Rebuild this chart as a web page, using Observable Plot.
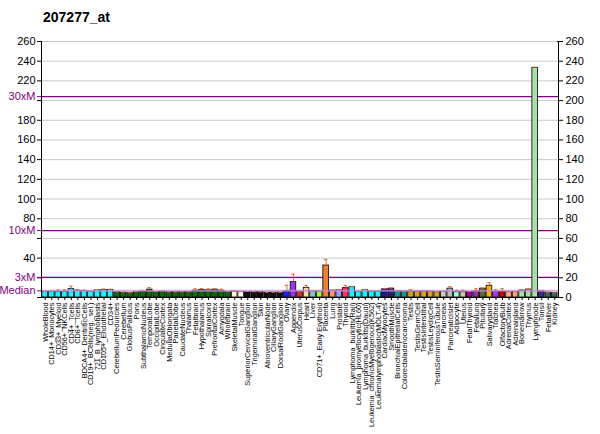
<!DOCTYPE html>
<html>
<head>
<meta charset="utf-8">
<script src="https://cdn.jsdelivr.net/npm/d3@7"></script>
<script src="https://cdn.jsdelivr.net/npm/@observablehq/plot@0.6"></script>
<style>
  html, body { margin: 0; padding: 0; background: #fff; }
  #wrap { position: relative; width: 600px; height: 434px; }
  #title { position: absolute; left: 43px; top: 9px; font: bold 14px "Liberation Sans", Arial, sans-serif; color: #000; }
</style>
</head>
<body>
<div id="wrap"><div id="title">207277_at</div></div>
<script>
const tissues = [
  "WholeBlood","CD14+_Monocytes","CD33+_Myeloid","CD56+_NKCells","CD4+_Tcells","CD8+_Tcells",
  "BDCA4+_DentriticCells","CD19+_BCells(neg._sel.)","721_B_lymphoblasts","CD105+_Endothelial","CD34+",
  "CerebellumPeduncles","Cerebellum","GlobusPallidus","Pons","SubthalamicNucleus","TemporalLobe",
  "OccipitalLobe","CingulateCortex","MedullaOblongata","ParietalLobe","CaudateNucleus","Thalamus",
  "Fetalbrain","Hypothalamus","Spinalcord","PrefrontalCortex","Amygdala","Wholebrain",
  "SkeletalMuscle","Tongue","SuperiorCervicalGanglion","TrigeminalGanglion","Skin",
  "AtrioventricularNode","CiliaryGanglion","DorsalRootGanglion","Ovary","Appendix","UterusCorpus",
  "Heart","Liver","CD71+_Early Erythroid","Placenta","Lung","Prostate","Thyroid",
  "Lymphoma_burkitts(Raji)","Leukemia_promyelocytic(HL60)","Lymphoma_burkitts(Daudi)",
  "Leukemia_chronicMyelogenous(K562)","Leukemialymphoblastic(MOLT-4)","CardiacMyocytes",
  "SmoothMuscle","BronchialEpithelialCells","Colorectaladenocarcinoma","Testis","TestisGermCell",
  "TestisInterstitial","TestisLeydigCell","TestisSeminiferousTubule","Pancreas","PancreaticIslet",
  "Adipocyte","Uterus","FetalThyroid","Fetallung","Pituitary","Salivarygland","Trachea",
  "OlfactoryBulb","AdrenalCortex","Adrenalgland","Bonemarrow","Thymus","Lymphnode","Tonsil",
  "Fetalliver","Kidney"
];
const values = [
  5.8,6.0,5.8,5.8,8.5,7.0,6.5,6.0,7.3,7.6,7.6,
  5.4,5.0,4.4,5.7,6.0,8.0,5.7,6.0,5.4,5.4,5.4,5.4,
  7.0,7.6,7.3,8.0,7.0,5.7,
  6.0,5.7,5.8,5.5,5.5,5.0,5.0,5.0,6.4,15.6,6.1,
  9.8,6.4,6.1,32.5,7.0,7.4,9.5,
  10.5,6.0,7.4,6.0,6.0,8.4,
  9.0,6.4,6.0,6.0,6.0,6.0,6.0,5.6,5.8,9.0,
  5.4,5.4,5.7,6.4,9.0,12.0,6.0,
  6.0,5.4,5.7,7.0,8.0,233,6.5,
  5.0,4.4
];
const errors = [
  0.6,0.5,2.0,2.0,3.0,1.0,1.0,0.5,0.8,1.0,0.8,
  0.4,0.4,0.3,0.4,1.2,2.0,0.4,0.8,0.4,0.4,0.4,0.4,
  1.8,1.5,1.5,0.8,1.5,0.4,
  0.8,0.3,0.3,0.3,0.3,0.3,0.3,0.3,6.0,8.0,0.6,
  2.5,0.6,0.3,6.0,0.4,0.8,2.5,
  0.8,0.3,0.8,0.3,0.3,0.8,
  0.6,0.6,0.6,2.0,0.5,0.6,0.6,0.3,0.4,2.0,
  2.0,2.0,0.4,2.5,0.6,3.0,2.0,
  3.0,0.8,0.4,1.0,1.0,1.0,0.8,
  0.3,0.3
];
const barColors = [
  "#22eeff","#22eeff","#22eeff","#22eeff","#22eeff","#22eeff","#22eeff","#22eeff","#22eeff","#22eeff","#22eeff",
  "#0b6b0b","#0b6b0b","#0b6b0b","#0b6b0b","#0b6b0b","#0b6b0b","#0b6b0b","#0b6b0b","#0b6b0b","#0b6b0b","#0b6b0b","#0b6b0b",
  "#0b6b0b","#0b6b0b","#0b6b0b","#0b6b0b","#0b6b0b","#0b6b0b",
  "#fff0d8","#fff6e6","#111111","#111111","#111111","#111111","#111111","#111111","#1a1aff","#9933ee","#cc3333",
  "#f2d9a6","#88c4cc","#99ff33","#ee8030","#ff9966","#9999ff","#ff3366",
  "#22eeff","#22eeff","#22eeff","#22eeff","#22eeff","#1a1a99",
  "#222277","#119999","#119999","#d4a020","#d4a020","#d4a020","#d4a020","#d4a020","#cccccc","#bbbbbb",
  "#99ffdd","#cccc99","#a000a0","#993399","#556b2f","#ffaa11","#aa33ff",
  "#cc0000","#ffaa88","#ff9977","#a8e0a8","#a8e0a8","#a8e0a8","#333399",
  "#336666","#336666"
];
const median = 6.8;
const multLabels = ["Median", "3xM", "10xM", "30xM"];
const multValues = [median, median * 3, median * 10, median * 30];
const rightTicks = d3.range(0, 261, 20);

const data = tissues.map((t, i) => ({tissue: t, value: values[i], err: errors[i], color: barColors[i]}));
const hiddenLeft = new Set([0, 20, 60, 200]);
const font = '"Liberation Sans", Arial, sans-serif';

const chart = Plot.plot({
  width: 600,
  height: 434,
  marginTop: 41,
  marginLeft: 41,
  marginRight: 42,
  marginBottom: 137,
  style: {fontFamily: font, background: "white", color: "black"},
  x: {domain: tissues, padding: 0.14, axis: null, label: null},
  y: {domain: [0, 260], axis: null, label: null},
  marks: [
    Plot.ruleY(rightTicks, {stroke: "#c8c8c8", strokeWidth: 1}),
    Plot.ruleY(multValues.slice(1), {stroke: "#800080", strokeWidth: 1.2}),
    Plot.barY(data, {x: "tissue", y: "value", fill: "color", stroke: "#000", strokeWidth: 0.8}),
    Plot.ruleX(data, {x: "tissue", y1: d => d.value, y2: d => d.value + d.err, stroke: "#e06a3a", strokeWidth: 1}),
    Plot.tickY(data, {x: "tissue", y: d => d.value + d.err, stroke: "#e06a3a", strokeWidth: 1, insetLeft: 1, insetRight: 1}),
    Plot.ruleY([median], {stroke: "#cc88dd", strokeWidth: 2, strokeOpacity: 0.75}),
    Plot.frame({stroke: "#000", strokeWidth: 1}),
    Plot.ruleY([260], {stroke: "#fff", strokeWidth: 1.5, insetLeft: 1, insetRight: 1}),
    Plot.ruleY([260], {stroke: "#c8c8c8", strokeWidth: 1, insetLeft: 1, insetRight: 1}),
    Plot.axisY(rightTicks, {anchor: "left", label: null, tickSize: 4, tickPadding: 2, fontSize: 11,
      tickFormat: d => hiddenLeft.has(d) ? "" : String(d)}),
    Plot.axisY(multValues, {anchor: "left", label: null, tickSize: 4, tickPadding: 2, fontSize: 11, color: "#800080",
      tickFormat: (d, i) => multLabels[i]}),
    Plot.axisY(rightTicks, {anchor: "right", label: null, tickSize: 4, tickPadding: 3, fontSize: 11}),
    Plot.axisX({anchor: "bottom", label: null, tickRotate: -90, tickSize: 3, tickPadding: 2, fontSize: 7.3})
  ]
});
document.getElementById("wrap").prepend(chart);
</script>
</body>
</html>
